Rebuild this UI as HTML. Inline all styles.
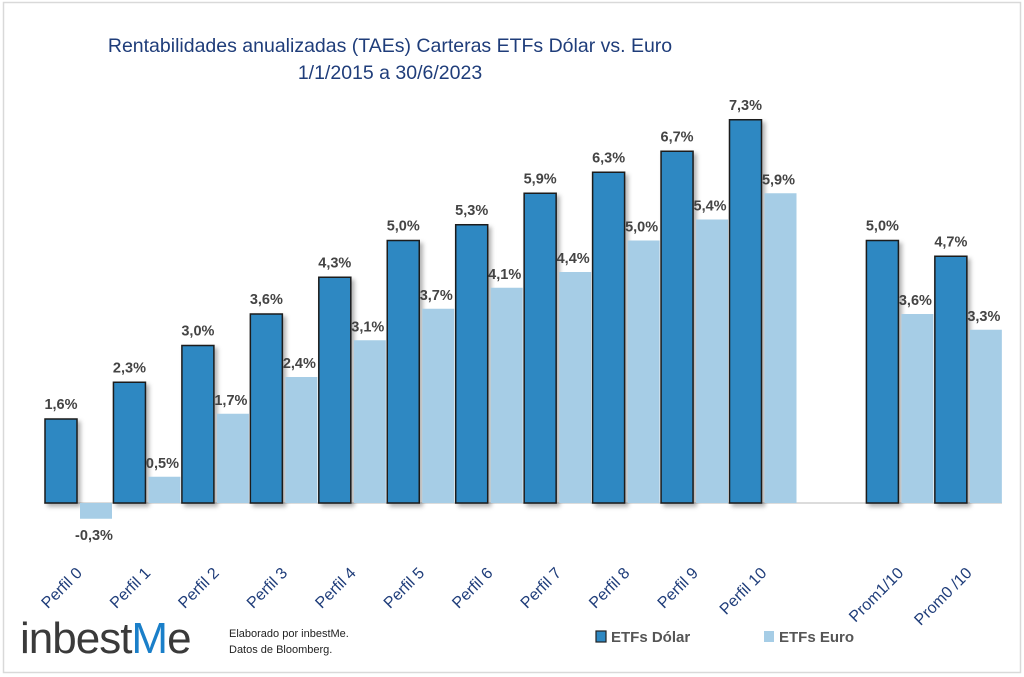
<!DOCTYPE html>
<html><head><meta charset="utf-8"><style>
html,body{margin:0;padding:0;background:#fff;}
svg{display:block;font-family:"Liberation Sans",sans-serif;}
</style></head><body>
<svg id="chart" width="1024" height="677" viewBox="0 0 1024 677">
<defs>
<filter id="sh" x="-20%" y="-5%" width="150%" height="115%"><feDropShadow dx="3" dy="3" stdDeviation="2" flood-color="#000" flood-opacity="0.3"/></filter>
</defs>
<rect x="3.5" y="2.5" width="1017" height="670" fill="#fff" stroke="#d9d9d9" stroke-width="1.5"/>
<text x="390" y="52" text-anchor="middle" font-size="19.5" fill="#1f3d7a">Rentabilidades anualizadas (TAEs) Carteras ETFs Dólar vs. Euro</text>
<text x="390" y="79" text-anchor="middle" font-size="19.5" fill="#1f3d7a">1/1/2015 a 30/6/2023</text>
<line x1="44" y1="503" x2="1002" y2="503" stroke="#d0d0d0" stroke-width="1.5"/>
<g id="bars"></g>
<g id="xlabels"></g>
<g>
<text x="20" y="653" font-size="44" fill="#3a3a3a" letter-spacing="-1">inbest<tspan fill="#1a7fc9">M</tspan><tspan>e</tspan></text>
</g>
<text x="229" y="637" font-size="11" fill="#222">Elaborado por inbestMe.</text>
<text x="229" y="653" font-size="11" fill="#222">Datos de Bloomberg.</text>
<g>
<rect x="596" y="631" width="10" height="11" fill="#2e88c2" stroke="#222" stroke-width="1.2"/>
<text x="611" y="642" font-size="15" font-weight="bold" fill="#555">ETFs Dólar</text>
<rect x="764" y="631" width="10" height="11" fill="#a6cde6"/>
<text x="779" y="642" font-size="15" font-weight="bold" fill="#555">ETFs Euro</text>
</g>
</svg>
<script>
const categories = ["Perfil 0","Perfil 1","Perfil 2","Perfil 3","Perfil 4","Perfil 5","Perfil 6","Perfil 7","Perfil 8","Perfil 9","Perfil 10","","Prom1/10","Prom0 /10"];
const dolarValues = [1.6,2.3,3.0,3.6,4.3,5.0,5.3,5.9,6.3,6.7,7.3,null,5.0,4.7];
const euroValues = [-0.3,0.5,1.7,2.4,3.1,3.7,4.1,4.4,5.0,5.4,5.9,null,3.6,3.3];

const NS = "http://www.w3.org/2000/svg";
const x0 = 45, slot = 68.45, barW = 32, zeroY = 503, pxPer = 52.5;
function xPos(i){ return x0 + i*slot; }
function yPos(v){ return zeroY - v*pxPer; }
function fmt(v){ return v.toFixed(1).replace('.', ',') + '%'; }
const bars = document.getElementById('bars');
const xl = document.getElementById('xlabels');
function mk(tag, attrs){ const e=document.createElementNS(NS,tag); for(const k in attrs) e.setAttribute(k,attrs[k]); return e; }

categories.forEach((c,i)=>{
  if(dolarValues[i]!==null){
    const v=dolarValues[i], x=xPos(i);
    const r=mk('rect',{x:x,y:Math.min(yPos(v),zeroY),width:barW,height:Math.abs(yPos(v)-zeroY),fill:'#2e88c2',stroke:'#1a1a1a','stroke-width':1.5,filter:'url(#sh)'});
    
    
    bars.appendChild(r);
    const t=mk('text',{x:x+barW/2,y:yPos(v)-10,'text-anchor':'middle','font-size':14.5,'font-weight':'bold',fill:'#444'});
    t.textContent=fmt(v);
    
    
    bars.appendChild(t);
  }
  if(euroValues[i]!==null){
    const v=euroValues[i], x=xPos(i)+barW+3;
    const r=mk('rect',{x:x,y:Math.min(yPos(v),zeroY),width:barW,height:Math.abs(yPos(v)-zeroY),fill:'#a6cde6'});
    
    
    bars.appendChild(r);
    const ly = v>=0 ? yPos(v)-9 : zeroY+37;
    const t=mk('text',{x:x+barW/2-2,y:ly,'text-anchor':'middle','font-size':14.5,'font-weight':'bold',fill:'#444'});
    t.textContent=fmt(v);
    
    
    bars.appendChild(t);
  }
  if(c){
    const cx=xPos(i)+barW+6, cy=574;
    const t=mk('text',{x:cx,y:cy,'text-anchor':'end','font-size':16,fill:'#1f3d7a',transform:'rotate(-45 '+cx+' '+cy+')'});
    t.textContent=c;
    
    
    xl.appendChild(t);
  }
});
</script>
</body></html>
